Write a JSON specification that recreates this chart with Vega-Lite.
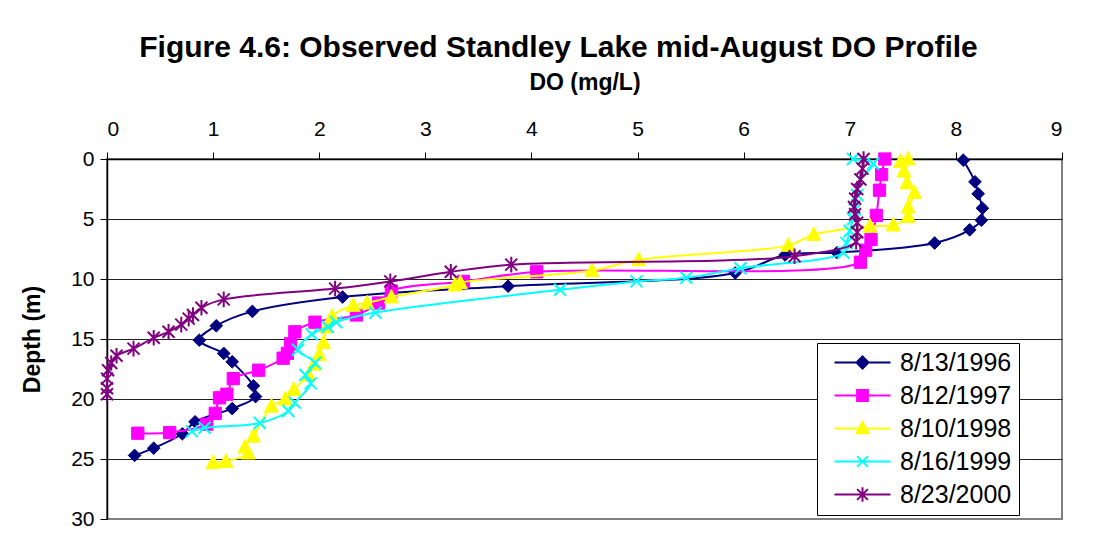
{
  "$schema": "https://vega.github.io/schema/vega-lite/v6.json",
  "width": 955,
  "height": 360,
  "autosize": {"type": "none"},
  "padding": {"left": 107, "top": 159, "right": 52, "bottom": 38},
  "background": "white",
  "config": {
    "font": "Liberation Sans",
    "view": {"stroke": "#808080", "strokeWidth": 2},
    "axis": {"labelColor": "black", "titleColor": "black", "domainColor": "black", "tickColor": "black", "labelFont": "Liberation Sans", "titleFont": "Liberation Sans"}
  },
  "title": {
    "text": "Figure 4.6: Observed Standley Lake mid-August DO Profile",
    "fontSize": 30,
    "fontWeight": "bold",
    "font": "Liberation Sans",
    "color": "black",
    "anchor": "middle",
    "dx": -26,
    "offset": 8
  },
  "data": {
    "values": [
      {"s": "8/13/1996", "do": 8.07, "depth": 0.1},
      {"s": "8/13/1996", "do": 8.18, "depth": 1.9},
      {"s": "8/13/1996", "do": 8.21, "depth": 2.9},
      {"s": "8/13/1996", "do": 8.25, "depth": 4.1},
      {"s": "8/13/1996", "do": 8.24, "depth": 5.1},
      {"s": "8/13/1996", "do": 8.13, "depth": 5.9},
      {"s": "8/13/1996", "do": 7.8, "depth": 7.0},
      {"s": "8/13/1996", "do": 6.88, "depth": 7.8},
      {"s": "8/13/1996", "do": 6.39, "depth": 8.0},
      {"s": "8/13/1996", "do": 5.92, "depth": 9.5},
      {"s": "8/13/1996", "do": 3.78, "depth": 10.6},
      {"s": "8/13/1996", "do": 2.22, "depth": 11.5},
      {"s": "8/13/1996", "do": 1.37, "depth": 12.7},
      {"s": "8/13/1996", "do": 1.03, "depth": 13.9},
      {"s": "8/13/1996", "do": 0.87, "depth": 15.1},
      {"s": "8/13/1996", "do": 1.1, "depth": 16.2},
      {"s": "8/13/1996", "do": 1.18, "depth": 16.9},
      {"s": "8/13/1996", "do": 1.38, "depth": 18.9},
      {"s": "8/13/1996", "do": 1.4, "depth": 19.8},
      {"s": "8/13/1996", "do": 1.18, "depth": 20.8},
      {"s": "8/13/1996", "do": 0.83, "depth": 21.9},
      {"s": "8/13/1996", "do": 0.71, "depth": 22.9},
      {"s": "8/13/1996", "do": 0.44, "depth": 24.1},
      {"s": "8/13/1996", "do": 0.26, "depth": 24.7},
      {"s": "8/12/1997", "do": 7.33, "depth": 0.0},
      {"s": "8/12/1997", "do": 7.3, "depth": 1.3},
      {"s": "8/12/1997", "do": 7.28, "depth": 2.6},
      {"s": "8/12/1997", "do": 7.25, "depth": 4.7},
      {"s": "8/12/1997", "do": 7.2, "depth": 6.7},
      {"s": "8/12/1997", "do": 7.15, "depth": 7.6},
      {"s": "8/12/1997", "do": 7.1, "depth": 8.6},
      {"s": "8/12/1997", "do": 4.05, "depth": 9.4},
      {"s": "8/12/1997", "do": 3.36, "depth": 10.2},
      {"s": "8/12/1997", "do": 2.68, "depth": 11.0},
      {"s": "8/12/1997", "do": 2.56, "depth": 12.0},
      {"s": "8/12/1997", "do": 2.35, "depth": 13.0},
      {"s": "8/12/1997", "do": 1.96, "depth": 13.6},
      {"s": "8/12/1997", "do": 1.77, "depth": 14.4},
      {"s": "8/12/1997", "do": 1.73, "depth": 15.4},
      {"s": "8/12/1997", "do": 1.7, "depth": 16.2},
      {"s": "8/12/1997", "do": 1.66, "depth": 16.6},
      {"s": "8/12/1997", "do": 1.43, "depth": 17.6},
      {"s": "8/12/1997", "do": 1.19, "depth": 18.3},
      {"s": "8/12/1997", "do": 1.13, "depth": 19.6},
      {"s": "8/12/1997", "do": 1.06, "depth": 19.9},
      {"s": "8/12/1997", "do": 1.02, "depth": 21.2},
      {"s": "8/12/1997", "do": 0.94, "depth": 22.1},
      {"s": "8/12/1997", "do": 0.59, "depth": 22.8},
      {"s": "8/12/1997", "do": 0.29, "depth": 22.85},
      {"s": "8/10/1998", "do": 7.55, "depth": 0.0},
      {"s": "8/10/1998", "do": 7.48, "depth": 0.2},
      {"s": "8/10/1998", "do": 7.51, "depth": 1.0},
      {"s": "8/10/1998", "do": 7.54, "depth": 2.0},
      {"s": "8/10/1998", "do": 7.61, "depth": 2.8},
      {"s": "8/10/1998", "do": 7.55, "depth": 4.0},
      {"s": "8/10/1998", "do": 7.55, "depth": 4.8},
      {"s": "8/10/1998", "do": 7.41, "depth": 5.5},
      {"s": "8/10/1998", "do": 7.19, "depth": 5.6},
      {"s": "8/10/1998", "do": 6.66, "depth": 6.3},
      {"s": "8/10/1998", "do": 6.42, "depth": 7.2},
      {"s": "8/10/1998", "do": 5.01, "depth": 8.4},
      {"s": "8/10/1998", "do": 4.57, "depth": 9.3},
      {"s": "8/10/1998", "do": 3.33, "depth": 10.3},
      {"s": "8/10/1998", "do": 3.28, "depth": 10.5},
      {"s": "8/10/1998", "do": 2.68, "depth": 11.5},
      {"s": "8/10/1998", "do": 2.45, "depth": 12.0},
      {"s": "8/10/1998", "do": 2.32, "depth": 12.2},
      {"s": "8/10/1998", "do": 2.12, "depth": 13.1},
      {"s": "8/10/1998", "do": 2.07, "depth": 14.0},
      {"s": "8/10/1998", "do": 2.04, "depth": 15.3},
      {"s": "8/10/1998", "do": 2.0, "depth": 16.3},
      {"s": "8/10/1998", "do": 1.95, "depth": 17.1},
      {"s": "8/10/1998", "do": 1.9, "depth": 18.0},
      {"s": "8/10/1998", "do": 1.76, "depth": 19.2},
      {"s": "8/10/1998", "do": 1.68, "depth": 20.0},
      {"s": "8/10/1998", "do": 1.55, "depth": 20.6},
      {"s": "8/10/1998", "do": 1.38, "depth": 23.1},
      {"s": "8/10/1998", "do": 1.3, "depth": 24.0},
      {"s": "8/10/1998", "do": 1.33, "depth": 24.5},
      {"s": "8/10/1998", "do": 1.12, "depth": 25.2},
      {"s": "8/10/1998", "do": 1.0, "depth": 25.3},
      {"s": "8/16/1999", "do": 7.03, "depth": 0.0},
      {"s": "8/16/1999", "do": 7.22, "depth": 0.4},
      {"s": "8/16/1999", "do": 7.1, "depth": 1.7},
      {"s": "8/16/1999", "do": 7.07, "depth": 3.0},
      {"s": "8/16/1999", "do": 7.05, "depth": 4.2},
      {"s": "8/16/1999", "do": 7.03, "depth": 5.0},
      {"s": "8/16/1999", "do": 7.0, "depth": 6.0},
      {"s": "8/16/1999", "do": 6.97, "depth": 7.0},
      {"s": "8/16/1999", "do": 6.94, "depth": 7.8},
      {"s": "8/16/1999", "do": 5.97, "depth": 9.1},
      {"s": "8/16/1999", "do": 5.46, "depth": 9.9},
      {"s": "8/16/1999", "do": 4.99, "depth": 10.2},
      {"s": "8/16/1999", "do": 4.27, "depth": 10.9},
      {"s": "8/16/1999", "do": 2.53, "depth": 12.8},
      {"s": "8/16/1999", "do": 2.16, "depth": 13.6},
      {"s": "8/16/1999", "do": 2.08, "depth": 14.0},
      {"s": "8/16/1999", "do": 1.93, "depth": 14.6},
      {"s": "8/16/1999", "do": 1.8, "depth": 15.9},
      {"s": "8/16/1999", "do": 1.96, "depth": 17.0},
      {"s": "8/16/1999", "do": 1.87, "depth": 18.0},
      {"s": "8/16/1999", "do": 1.92, "depth": 18.7},
      {"s": "8/16/1999", "do": 1.77, "depth": 20.3},
      {"s": "8/16/1999", "do": 1.71, "depth": 21.0},
      {"s": "8/16/1999", "do": 1.44, "depth": 22.0},
      {"s": "8/16/1999", "do": 0.92, "depth": 22.4},
      {"s": "8/16/1999", "do": 0.8, "depth": 22.7},
      {"s": "8/23/2000", "do": 7.13, "depth": 0.0},
      {"s": "8/23/2000", "do": 7.12, "depth": 0.8},
      {"s": "8/23/2000", "do": 7.1, "depth": 1.7},
      {"s": "8/23/2000", "do": 7.07, "depth": 2.5},
      {"s": "8/23/2000", "do": 7.05, "depth": 3.3},
      {"s": "8/23/2000", "do": 7.04, "depth": 4.0},
      {"s": "8/23/2000", "do": 7.05, "depth": 4.6},
      {"s": "8/23/2000", "do": 7.07, "depth": 5.3},
      {"s": "8/23/2000", "do": 7.07, "depth": 6.1},
      {"s": "8/23/2000", "do": 7.06, "depth": 6.9},
      {"s": "8/23/2000", "do": 6.48, "depth": 8.1},
      {"s": "8/23/2000", "do": 3.81, "depth": 8.8},
      {"s": "8/23/2000", "do": 3.24, "depth": 9.4},
      {"s": "8/23/2000", "do": 2.67, "depth": 10.2},
      {"s": "8/23/2000", "do": 2.15, "depth": 10.8},
      {"s": "8/23/2000", "do": 1.1, "depth": 11.7},
      {"s": "8/23/2000", "do": 0.89, "depth": 12.4},
      {"s": "8/23/2000", "do": 0.81, "depth": 13.0},
      {"s": "8/23/2000", "do": 0.77, "depth": 13.3},
      {"s": "8/23/2000", "do": 0.7, "depth": 13.8},
      {"s": "8/23/2000", "do": 0.58, "depth": 14.4},
      {"s": "8/23/2000", "do": 0.44, "depth": 14.9},
      {"s": "8/23/2000", "do": 0.25, "depth": 15.8},
      {"s": "8/23/2000", "do": 0.09, "depth": 16.4},
      {"s": "8/23/2000", "do": 0.04, "depth": 17.0},
      {"s": "8/23/2000", "do": 0.01, "depth": 17.6},
      {"s": "8/23/2000", "do": 0.0, "depth": 18.3},
      {"s": "8/23/2000", "do": 0.0, "depth": 19.1},
      {"s": "8/23/2000", "do": 0.0, "depth": 19.6}
    ]
  },
  "encoding": {
    "x": {
      "field": "do",
      "type": "quantitative",
      "scale": {"domain": [0, 9], "nice": false, "zero": false},
      "axis": {
        "orient": "top",
        "values": [0, 1, 2, 3, 4, 5, 6, 7, 8, 9],
        "title": "DO (mg/L)",
        "titleFontSize": 23,
        "titleFontWeight": "bold",
        "titlePadding": 24,
        "labelFontSize": 21,
        "labelPadding": 13,
        "tickSize": 7,
        "grid": false,
        "domainWidth": 1.5
      }
    },
    "y": {
      "field": "depth",
      "type": "quantitative",
      "scale": {"domain": [0, 30], "reverse": true, "nice": false, "zero": false},
      "axis": {
        "values": [0, 5, 10, 15, 20, 25, 30],
        "title": "Depth (m)",
        "titleFontSize": 23,
        "titleFontWeight": "bold",
        "titlePadding": 26,
        "labelFontSize": 21,
        "labelPadding": 6,
        "tickSize": 7,
        "grid": true,
        "gridColor": {"condition": {"test": "datum.value === 30 || datum.value === 0", "value": "transparent"}, "value": "#222222"},
        "gridWidth": 1.2,
        "domainWidth": 1.5
      }
    }
  },
  "layer": [
    {
      "transform": [{"filter": {"field": "s", "equal": "8/13/1996"}}],
      "mark": {"type": "line", "interpolate": "catmull-rom", "color": "#000080", "strokeWidth": 2,
        "point": {"shape": "M0,-1L1,0L0,1L-1,0Z", "size": 160, "filled": true, "fill": "#000080", "stroke": "#000080", "strokeWidth": 1}},
      "encoding": {"order": {"field": "depth", "type": "quantitative"}}
    },
    {
      "transform": [{"filter": {"field": "s", "equal": "8/12/1997"}}],
      "mark": {"type": "line", "interpolate": "catmull-rom", "color": "#FF00FF", "strokeWidth": 2,
        "point": {"shape": "M-1,-1L1,-1L1,1L-1,1Z", "size": 150, "filled": true, "fill": "#FF00FF", "stroke": "#FF00FF", "strokeWidth": 1}},
      "encoding": {"order": {"field": "depth", "type": "quantitative"}}
    },
    {
      "transform": [{"filter": {"field": "s", "equal": "8/10/1998"}}],
      "mark": {"type": "line", "interpolate": "catmull-rom", "color": "#FFFF00", "strokeWidth": 2,
        "point": {"shape": "M0,-1.1L1,0.85L-1,0.85Z", "size": 196, "filled": true, "fill": "#FFFF00", "stroke": "#FFFF00", "strokeWidth": 1}},
      "encoding": {"order": {"field": "depth", "type": "quantitative"}}
    },
    {
      "transform": [{"filter": {"field": "s", "equal": "8/16/1999"}}],
      "mark": {"type": "line", "interpolate": "catmull-rom", "color": "#00FFFF", "strokeWidth": 2,
        "point": {"shape": "M-1,-1L1,1M-1,1L1,-1", "size": 144, "filled": false, "fill": "transparent", "stroke": "#00FFFF", "strokeWidth": 2}},
      "encoding": {"order": {"field": "depth", "type": "quantitative"}}
    },
    {
      "transform": [{"filter": {"field": "s", "equal": "8/23/2000"}}],
      "mark": {"type": "line", "interpolate": "catmull-rom", "color": "#800080", "strokeWidth": 2,
        "point": {"shape": "M-1,-1L1,1M-1,1L1,-1M0,-1.3L0,1.3", "size": 144, "filled": false, "fill": "transparent", "stroke": "#800080", "strokeWidth": 2}},
      "encoding": {"order": {"field": "depth", "type": "quantitative"}}
    },
    {
      "transform": [{"filter": {"field": "depth", "lt": -100}}],
      "mark": {"type": "point", "filled": true, "strokeWidth": 2},
      "encoding": {
        "shape": {
          "field": "s", "type": "nominal",
          "scale": {"domain": ["8/13/1996", "8/12/1997", "8/10/1998", "8/16/1999", "8/23/2000"],
            "range": ["M-4.67,0L4.67,0M0,-1L1,0L0,1L-1,0Z", "M-4.67,0L4.67,0M-0.9,-0.9L0.9,-0.9L0.9,0.9L-0.9,0.9Z", "M-4.67,0L4.67,0M0,-1.1L1,0.8L-1,0.8Z", "M-4.67,0L4.67,0M-0.9,-0.9L0.9,0.9M-0.9,0.9L0.9,-0.9", "M-4.67,0L4.67,0M-0.9,-0.9L0.9,0.9M-0.9,0.9L0.9,-0.9M0,-1.2L0,1.2"]},
          "legend": {"title": null, "orient": "none", "legendX": 710, "legendY": 184, "padding": 7, "symbolOffset": 26, "symbolSize": 144, "symbolStrokeWidth": 2, "symbolOpacity": 1, "labelFontSize": 25, "labelOffset": 25, "rowPadding": 7, "strokeColor": "black", "fillColor": "white", "labelColor": "black", "labelFont": "Liberation Sans"}
        },
        "fill": {
          "field": "s", "type": "nominal",
          "scale": {"domain": ["8/13/1996", "8/12/1997", "8/10/1998", "8/16/1999", "8/23/2000"],
            "range": ["#000080", "#FF00FF", "#FFFF00", "transparent", "transparent"]},
          "legend": {"title": null, "orient": "none", "legendX": 710, "legendY": 184, "padding": 7, "symbolOffset": 26, "symbolSize": 144, "symbolStrokeWidth": 2, "symbolOpacity": 1, "labelFontSize": 25, "labelOffset": 25, "rowPadding": 7, "strokeColor": "black", "fillColor": "white", "labelColor": "black", "labelFont": "Liberation Sans"}
        },
        "stroke": {
          "field": "s", "type": "nominal",
          "scale": {"domain": ["8/13/1996", "8/12/1997", "8/10/1998", "8/16/1999", "8/23/2000"],
            "range": ["#000080", "#FF00FF", "#FFFF00", "#00FFFF", "#800080"]},
          "legend": {"title": null, "orient": "none", "legendX": 710, "legendY": 184, "padding": 7, "symbolOffset": 26, "symbolSize": 144, "symbolStrokeWidth": 2, "symbolOpacity": 1, "labelFontSize": 25, "labelOffset": 25, "rowPadding": 7, "strokeColor": "black", "fillColor": "white", "labelColor": "black", "labelFont": "Liberation Sans"}
        }
      }
    }
  ]
}
